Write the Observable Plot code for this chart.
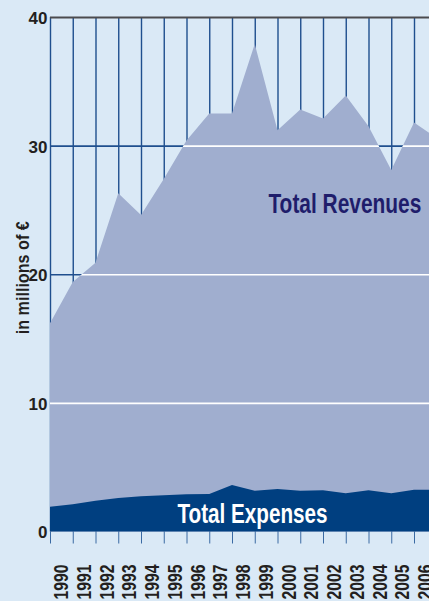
<!DOCTYPE html>
<html><head><meta charset="utf-8">
<script src="https://cdn.jsdelivr.net/npm/d3@7"></script>
<script src="https://cdn.jsdelivr.net/npm/@observablehq/plot@0.6"></script>
<style>
html,body{margin:0;padding:0;background:#dae9f6;overflow:hidden;width:429px;height:601px;}
</style></head><body><div id="chart"></div>
<script>
const years = [1990,1991,1992,1993,1994,1995,1996,1997,1998,1999,2000,2001,2002,2003,2004,2005,2006,2007];
const revenues = [16.2,19.4,20.9,26.3,24.6,27.4,30.4,32.5,32.5,37.9,31.2,32.8,32.1,33.9,31.5,28.1,31.8,30.6];
const expenses = [1.93,2.12,2.40,2.60,2.75,2.81,2.89,2.92,3.62,3.17,3.30,3.17,3.20,2.97,3.20,2.97,3.25,3.25];
const yTicks = [0,10,20,30,40];
const gridLines = [10,20,30];
const yearLabels = ["1990","1991","1992","1993","1994","1995","1996","1997","1998","1999","2000","2001","2002","2003","2004","2005","2006"];
const seriesNames = ["Total Revenues","Total Expenses"];
const axisTitle = "in millions of €";

const data = years.map((year,i)=>({year, rev: revenues[i], exp: expenses[i]}));

const FONT = '"Liberation Sans",Arial,sans-serif';
const navy = "#1f4f8e";

const chart = Plot.plot({
  width: 429,
  height: 601,
  marginLeft: 50,
  marginTop: 17,
  marginBottom: 69.5,
  marginRight: 0,
  style: {background: "#dae9f6", color: "#3a6aa3", overflow: "hidden"},
  x: {domain: [1990, 2007], range: [50, 436.75], ticks: years, tickSize: 12, tickFormat: () => "", label: null},
  y: {domain: [0, 40], axis: null},
  marks: [
    Plot.ruleX(years, {x: d => d, y1: 0, y2: 40, stroke: navy, strokeWidth: 1.4}),
    Plot.ruleY(gridLines, {y: d => d, stroke: navy, strokeWidth: 1.6}),
    Plot.areaY(data, {x: "year", y: "rev", fill: "#a0aecf", ariaDescription: "revenues"}),
    Plot.ruleY(gridLines, {y: d => d, stroke: "white", strokeWidth: 1.6, ariaDescription: "whitegrid"}),
    Plot.areaY(data, {x: "year", y: "exp", fill: "#003f80", ariaDescription: "expenses"}),
    Plot.ruleY([40], {stroke: "#4b4b4e", strokeWidth: 2.2}),
    Plot.text(yTicks, {x: 1990, y: d => d, text: d => String(d), dx: -3, dy: 1, textAnchor: "end", fontFamily: FONT, fontWeight: "bold", fontSize: 17, fill: "#231f20"}),
    Plot.text(yearLabels, {x: (d,i) => years[i] + 0.5, y: 0, text: d => d, rotate: -90, textAnchor: "end", dy: 32.5, fontFamily: FONT, fontWeight: "bold", fontSize: 19.5, fill: "#231f20", ariaDescription: "years"}),
    Plot.text([axisTitle], {frameAnchor: "left", rotate: -90, textAnchor: "middle", dx: -27.5, dy: 3, fontFamily: FONT, fontWeight: "bold", fontSize: 19, fill: "#231f20", ariaDescription: "ytitle"}),
    Plot.text([seriesNames[0]], {x: 2002.94, y: 25.45, textAnchor: "middle", fontFamily: FONT, fontWeight: "bold", fontSize: 27, fill: "#1f1d6b", ariaDescription: "revlabel"}),
    Plot.text([seriesNames[1]], {x: 1998.88, y: 1.35, textAnchor: "middle", fontFamily: FONT, fontWeight: "bold", fontSize: 27, fill: "white", ariaDescription: "explabel"})
  ]
});
document.getElementById("chart").appendChild(chart);

const svg = d3.select(chart);
// condensed lettering, as in the reference
function squeeze(desc, len) {
  svg.selectAll(`g[aria-description="${desc}"] text`).attr("textLength", len).attr("lengthAdjust", "spacingAndGlyphs");
}
squeeze("revlabel", 153);
squeeze("explabel", 150);
squeeze("ytitle", 113);
squeeze("years", 35);

// clip white gridlines to the revenue area
const revG = svg.select('g[aria-description="revenues"]');
const wg = svg.select('g[aria-description="whitegrid"]');
if (!revG.empty() && !wg.empty()) {
  const revPath = revG.select("path").attr("d");
  const defs = svg.insert("defs", ":first-child");
  const cp = defs.append("clipPath").attr("id", "revclip");
  const p = cp.append("path").attr("d", revPath);
  const t = revG.attr("transform");
  if (t) p.attr("transform", t);
  const wrap = svg.insert("g", () => wg.node()).attr("clip-path", "url(#revclip)");
  wrap.node().appendChild(wg.node());
}
</script></body></html>
